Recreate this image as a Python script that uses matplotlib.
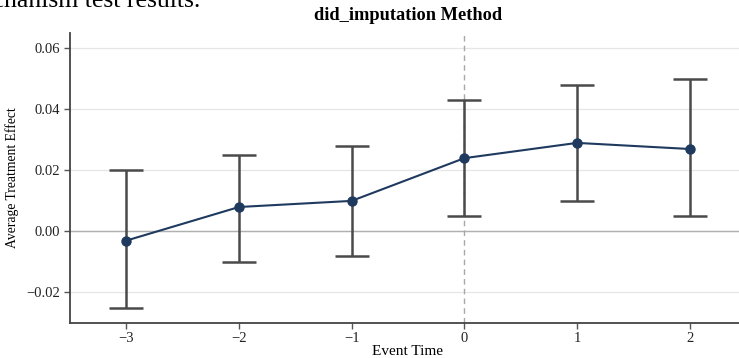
import matplotlib
matplotlib.use("Agg")
import matplotlib.pyplot as plt
import numpy as np

event_time = [-3, -2, -1, 0, 1, 2]
att = [-0.003, 0.008, 0.010, 0.024, 0.029, 0.027]
ci_low = [-0.025, -0.010, -0.008, 0.005, 0.010, 0.005]
ci_high = [0.020, 0.025, 0.028, 0.043, 0.048, 0.050]
yticks = [-0.02, 0.00, 0.02, 0.04, 0.06]

plt.rcParams['font.family'] = ['Liberation Serif', 'DejaVu Serif']
plt.rcParams['axes.unicode_minus'] = True

W, H = 739, 358
fig = plt.figure(figsize=(W/100, H/100), dpi=100)
ax = fig.add_axes([70/W, 1-323/H, (746-70)/W, (323-33)/H])

att = np.array(att); lo = np.array(ci_low); hi = np.array(ci_high)
for y in yticks:
    ax.axhline(y, color='#e6e6e6', lw=0.9, zorder=0)
ax.axhline(0, color='#b0b0b0', lw=1.0, zorder=1)
ax.axvline(0, color='#a8a8a8', lw=1.0, ls=(0, (4, 3)), zorder=1)

ax.errorbar(event_time, att, yerr=[att-lo, hi-att], fmt='none', ecolor='#4a4a4a',
            elinewidth=1.8, capsize=12.5, capthick=1.8, zorder=2)
ax.plot(event_time, att, color='#1f3a5f', lw=1.5, marker='o', ms=6.5, zorder=3)

ax.set_xlim(-3.5, 2.5)
ax.set_ylim(-0.03, 0.065)
ax.set_xticks(event_time)
ax.set_yticks(yticks)
ax.set_yticklabels([f"{v:.2f}".replace('-', '\u2212') for v in yticks])
ax.tick_params(axis='both', labelsize=10.5, color='#555555', length=4, width=1, labelcolor='#222222')
ax.tick_params(axis='x', pad=2.5)
for s in ['top', 'right']:
    ax.spines[s].set_visible(False)
for s in ['left', 'bottom']:
    ax.spines[s].set_color('#444444')
    ax.spines[s].set_linewidth(1.3)

ax.set_xlabel('Event Time', fontsize=11, labelpad=0)
ax.set_ylabel('Average Treatment Effect', fontsize=9.8)
ax.yaxis.set_label_coords(-(70-19)/(746-70), 0.5)
ax.set_title('did_imputation Method', fontsize=13.2, fontweight='bold', pad=9)

fig.text(200/W, 1-7/H, 'mechanism test results.', ha='right', va='baseline', fontsize=18.5)

fig.savefig('out.png', dpi=100)
